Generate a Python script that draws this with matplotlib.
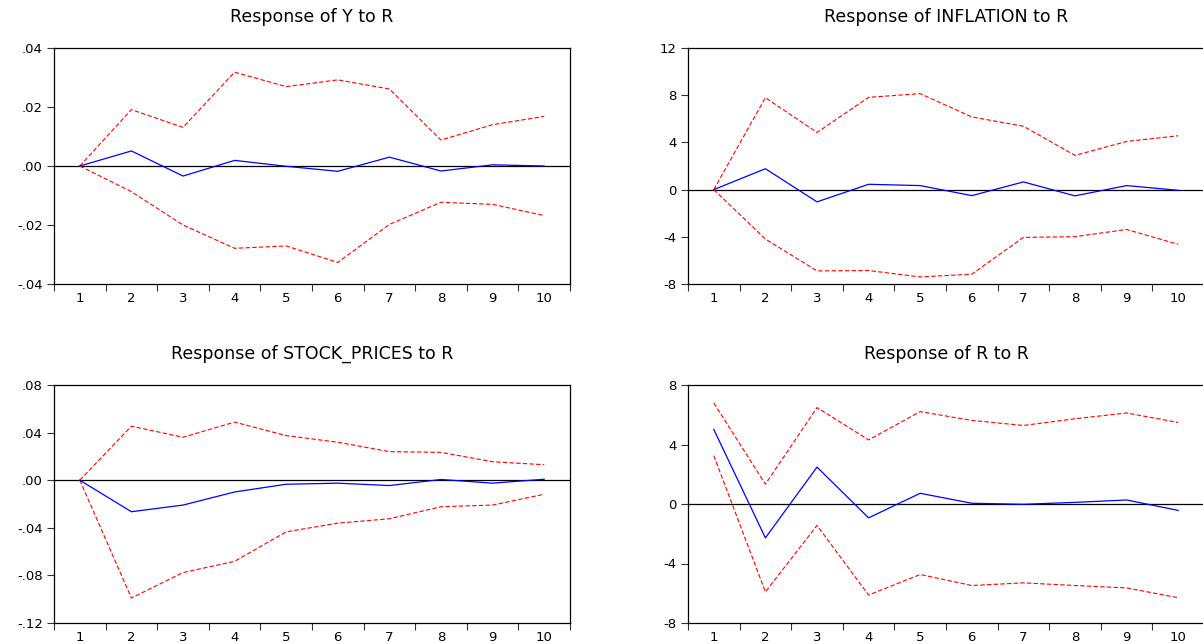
import matplotlib
matplotlib.use("Agg")
import matplotlib.pyplot as plt
from matplotlib.ticker import FixedLocator, NullFormatter, FixedFormatter

plt.rcParams['font.family'] = ['DejaVu Sans']

periods = [1, 2, 3, 4, 5, 6, 7, 8, 9, 10]

titles = ["Response of Y to R", "Response of INFLATION to R",
          "Response of STOCK_PRICES to R", "Response of R to R"]

# Response of Y to R
y_resp = [0.0, 0.0051, -0.0034, 0.0019, -0.0001, -0.0018, 0.0030, -0.0017, 0.0004, 0.0000]
y_upper = [0.0, 0.0191, 0.0131, 0.0318, 0.0269, 0.0292, 0.0261, 0.0088, 0.0140, 0.0168]
y_lower = [0.0, -0.0087, -0.0200, -0.0279, -0.0271, -0.0327, -0.0198, -0.0123, -0.0130, -0.0168]

# Response of INFLATION to R
inf_resp = [0.0, 1.77, -1.04, 0.45, 0.34, -0.51, 0.65, -0.53, 0.34, -0.06]
inf_upper = [0.0, 7.79, 4.84, 7.82, 8.13, 6.16, 5.37, 2.90, 4.08, 4.56]
inf_lower = [0.0, -4.19, -6.89, -6.86, -7.40, -7.17, -4.05, -3.99, -3.38, -4.64]

# Response of STOCK_PRICES to R
sp_resp = [0.0, -0.0265, -0.0209, -0.0099, -0.0034, -0.0025, -0.0045, 0.0006, -0.0025, 0.0008]
sp_upper = [0.0, 0.0454, 0.0361, 0.0488, 0.0375, 0.0319, 0.0240, 0.0234, 0.0155, 0.0130]
sp_lower = [0.0, -0.0990, -0.0776, -0.0682, -0.0434, -0.0361, -0.0324, -0.0223, -0.0209, -0.0118]

# Response of R to R
r_resp = [5.01, -2.28, 2.48, -0.93, 0.72, 0.05, -0.02, 0.11, 0.27, -0.43]
r_upper = [6.79, 1.33, 6.48, 4.31, 6.21, 5.62, 5.28, 5.73, 6.12, 5.48]
r_lower = [3.25, -5.91, -1.44, -6.12, -4.74, -5.48, -5.30, -5.48, -5.64, -6.30]

y_ticks = [-0.04, -0.02, 0.0, 0.02, 0.04]
y_ticklabels = ["-.04", "-.02", ".00", ".02", ".04"]
inf_ticks = [-8, -4, 0, 4, 8, 12]
inf_ticklabels = ["-8", "-4", "0", "4", "8", "12"]
sp_ticks = [-0.12, -0.08, -0.04, 0.0, 0.04, 0.08]
sp_ticklabels = ["-.12", "-.08", "-.04", ".00", ".04", ".08"]
r_ticks = [-8, -4, 0, 4, 8]
r_ticklabels = ["-8", "-4", "0", "4", "8"]

W, H = 1203, 644
fig = plt.figure(figsize=(W / 100, H / 100), dpi=100)

positions = [
    (54 / W, 1 - 284 / H, 516 / W, 236 / H),
    (688 / W, 1 - 284 / H, 516 / W, 236 / H),
    (54 / W, 1 - 623 / H, 516 / W, 238 / H),
    (688 / W, 1 - 623 / H, 516 / W, 238 / H),
]

panels = [
    (y_resp, y_upper, y_lower, y_ticks, y_ticklabels),
    (inf_resp, inf_upper, inf_lower, inf_ticks, inf_ticklabels),
    (sp_resp, sp_upper, sp_lower, sp_ticks, sp_ticklabels),
    (r_resp, r_upper, r_lower, r_ticks, r_ticklabels),
]

for pos, title, (resp, up, lo, ticks, tlabels) in zip(positions, titles, panels):
    ax = fig.add_axes(pos)
    ax.axhline(0, color='black', lw=0.9, zorder=1)
    ax.plot(periods, up, color='#FF0000', lw=0.8, dashes=(4, 2), zorder=2)
    ax.plot(periods, lo, color='#FF0000', lw=0.8, dashes=(4, 2), zorder=2)
    ax.plot(periods, resp, color='#0000FF', lw=0.9, zorder=3)
    ax.set_xlim(0.5, 10.5)
    ax.set_ylim(ticks[0], ticks[-1])
    ax.yaxis.set_major_locator(FixedLocator(ticks))
    ax.yaxis.set_major_formatter(FixedFormatter(tlabels))
    ax.xaxis.set_major_locator(FixedLocator([p - 0.5 for p in periods] + [periods[-1] + 0.5]))
    ax.xaxis.set_major_formatter(NullFormatter())
    ax.xaxis.set_minor_locator(FixedLocator(periods))
    ax.xaxis.set_minor_formatter(FixedFormatter([str(p) for p in periods]))
    ax.tick_params(axis='x', which='major', direction='out', length=5, width=0.8, color='#333333')
    ax.tick_params(axis='x', which='minor', length=0, pad=6, labelsize=9.5)
    ax.tick_params(axis='y', which='major', direction='out', length=5, width=0.8, pad=3,
                   labelsize=9.5, color='#333333')
    for s in ax.spines.values():
        s.set_linewidth(0.9)
        s.set_color('black')
    ax.text(0.5, 1 + 31 / 237, title, transform=ax.transAxes, ha='center', va='center',
            fontsize=12.5)

fig.savefig("out.png", dpi=100)
